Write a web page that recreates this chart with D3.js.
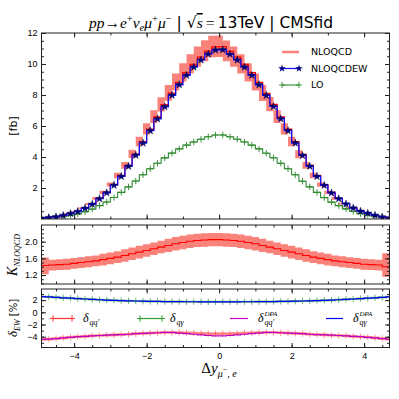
<!DOCTYPE html>
<head>
    <meta charset="utf-8">
    <script src="https://cdn.jsdelivr.net/npm/d3@7"></script>
    <style>
        body { margin: 0; background: #fff; }
        svg { font-family: 'DejaVu Sans', sans-serif; }
        .tick text { font-size: 9px; fill: #000; }
        .tick line { stroke: #222; }
        .math { font-family: 'Liberation Serif', serif; font-style: italic; }
    </style>
</head>

<body>
    <svg id="chart" width="399" height="399"></svg>

    <script>
        // bin centres of the Delta y histogram
        var binCenters = [-4.9, -4.7, -4.5, -4.3, -4.1, -3.9, -3.7, -3.5, -3.3, -3.1, -2.9, -2.7, -2.5, -2.3, -2.1, -1.9, -1.7, -1.5, -1.3, -1.1, -0.9, -0.7, -0.5, -0.3, -0.1,
            0.1, 0.3, 0.5, 0.7, 0.9, 1.1, 1.3, 1.5, 1.7, 1.9, 2.1, 2.3, 2.5, 2.7, 2.9, 3.1, 3.3, 3.5, 3.7, 3.9, 4.1, 4.3, 4.5, 4.7];

        // [fb] per bin
        var nloqcd = [0.05, 0.09, 0.14, 0.23, 0.36, 0.49, 0.70, 0.97, 1.33, 1.72, 2.22, 2.80, 3.46, 4.19, 4.99, 5.80, 6.58, 7.37, 8.12, 8.82, 9.44, 9.98, 10.45, 10.83, 11.10,
            11.12, 10.82, 10.45, 9.98, 9.44, 8.82, 8.11, 7.39, 6.59, 5.80, 4.99, 4.17, 3.46, 2.80, 2.21, 1.71, 1.33, 0.99, 0.72, 0.51, 0.38, 0.24, 0.13, 0.07];
        var nloqcdHi = [0.05, 0.10, 0.15, 0.24, 0.38, 0.52, 0.75, 1.03, 1.42, 1.83, 2.36, 2.98, 3.68, 4.46, 5.31, 6.18, 7.01, 7.85, 8.65, 9.39, 10.05, 10.63, 11.13, 11.53, 11.82,
            11.84, 11.52, 11.13, 10.63, 10.05, 9.39, 8.64, 7.87, 7.02, 6.18, 5.31, 4.44, 3.68, 2.98, 2.35, 1.82, 1.42, 1.05, 0.77, 0.54, 0.40, 0.26, 0.14, 0.07];
        var nloqcdLo = [0.05, 0.08, 0.13, 0.22, 0.34, 0.46, 0.66, 0.91, 1.25, 1.62, 2.09, 2.63, 3.25, 3.94, 4.69, 5.45, 6.19, 6.93, 7.63, 8.29, 8.87, 9.38, 9.82, 10.18, 10.43,
            10.45, 10.17, 9.82, 9.38, 8.87, 8.29, 7.62, 6.95, 6.19, 5.45, 4.69, 3.92, 3.25, 2.63, 2.08, 1.61, 1.25, 0.93, 0.68, 0.48, 0.36, 0.23, 0.12, 0.07];
        var nloqcdew = [0.05, 0.09, 0.14, 0.23, 0.35, 0.48, 0.69, 0.95, 1.31, 1.69, 2.18, 2.75, 3.40, 4.12, 4.90, 5.70, 6.46, 7.24, 7.98, 8.66, 9.27, 9.80, 10.26, 10.64, 10.90,
            10.92, 10.63, 10.26, 9.80, 9.27, 8.66, 7.97, 7.26, 6.47, 5.70, 4.90, 4.10, 3.40, 2.75, 2.17, 1.68, 1.31, 0.97, 0.71, 0.50, 0.37, 0.24, 0.13, 0.07];
        var lo = [0.035, 0.063, 0.097, 0.159, 0.247, 0.331, 0.467, 0.638, 0.864, 1.096, 1.388, 1.718, 2.072, 2.450, 2.851, 3.240, 3.596, 3.941, 4.251, 4.523, 4.768, 4.965, 5.148, 5.309, 5.415,
            5.424, 5.304, 5.148, 4.965, 4.768, 4.523, 4.246, 3.952, 3.601, 3.240, 2.851, 2.439, 2.072, 1.718, 1.381, 1.089, 0.864, 0.651, 0.480, 0.345, 0.260, 0.166, 0.090, 0.050];

        // K factor NLOQCD / LO
        var kFactor = [1.42, 1.43, 1.44, 1.45, 1.46, 1.48, 1.50, 1.52, 1.54, 1.57, 1.60, 1.63, 1.67, 1.71, 1.75, 1.79, 1.83, 1.87, 1.91, 1.95, 1.98, 2.01, 2.03, 2.04, 2.05,
            2.05, 2.04, 2.03, 2.01, 1.98, 1.95, 1.91, 1.87, 1.83, 1.79, 1.75, 1.71, 1.67, 1.63, 1.60, 1.57, 1.54, 1.52, 1.50, 1.48, 1.46, 1.45, 1.44, 1.40];
        var kLo = [1.22, 1.22, 1.31, 1.32, 1.33, 1.35, 1.37, 1.39, 1.41, 1.43, 1.46, 1.49, 1.52, 1.56, 1.60, 1.64, 1.68, 1.72, 1.75, 1.79, 1.82, 1.85, 1.87, 1.88, 1.89,
            1.89, 1.88, 1.87, 1.85, 1.82, 1.79, 1.75, 1.72, 1.68, 1.64, 1.60, 1.56, 1.52, 1.49, 1.46, 1.43, 1.41, 1.39, 1.37, 1.35, 1.33, 1.32, 1.31, 1.16];
        var kHi = [1.62, 1.62, 1.57, 1.58, 1.59, 1.61, 1.63, 1.65, 1.67, 1.71, 1.74, 1.77, 1.82, 1.86, 1.90, 1.94, 1.98, 2.02, 2.07, 2.11, 2.14, 2.17, 2.19, 2.20, 2.21,
            2.21, 2.20, 2.19, 2.17, 2.14, 2.11, 2.07, 2.02, 1.98, 1.94, 1.90, 1.86, 1.82, 1.77, 1.74, 1.71, 1.67, 1.65, 1.63, 1.61, 1.59, 1.58, 1.57, 1.72];

        // EW corrections [%]
        var dQQ = [-4.45, -4.4, -4.3, -4.2, -4.1, -4.0, -3.95, -3.85, -3.8, -3.75, -3.7, -3.65, -3.6, -3.5, -3.45, -3.4, -3.35, -3.3, -3.3, -3.3, -3.35, -3.4, -3.45, -3.5, -3.5,
            -3.5, -3.5, -3.45, -3.4, -3.35, -3.3, -3.3, -3.3, -3.35, -3.4, -3.45, -3.5, -3.6, -3.65, -3.7, -3.75, -3.8, -3.85, -3.95, -4.0, -4.1, -4.2, -4.3, -4.4];
        var dQG = [2.58, 2.52, 2.45, 2.38, 2.31, 2.25, 2.18, 2.12, 2.06, 2.01, 1.96, 1.92, 1.88, 1.85, 1.82, 1.80, 1.78, 1.76, 1.75, 1.74, 1.73, 1.73, 1.72, 1.72, 1.72,
            1.72, 1.72, 1.72, 1.73, 1.73, 1.74, 1.75, 1.76, 1.78, 1.80, 1.82, 1.85, 1.88, 1.92, 1.96, 2.01, 2.06, 2.12, 2.18, 2.25, 2.31, 2.38, 2.45, 2.52];
        var dQQdpa = [-4.45, -4.4, -4.3, -4.2, -4.1, -4.0, -3.95, -3.85, -3.8, -3.75, -3.7, -3.65, -3.6, -3.5, -3.45, -3.4, -3.35, -3.3, -3.3, -3.4, -3.5, -3.6, -3.7, -3.8, -3.85,
            -3.85, -3.8, -3.7, -3.6, -3.5, -3.4, -3.3, -3.3, -3.35, -3.4, -3.45, -3.5, -3.6, -3.65, -3.7, -3.75, -3.8, -3.85, -3.95, -4.0, -4.1, -4.2, -4.3, -4.4];
        var dQGdpa = [2.58, 2.52, 2.45, 2.38, 2.31, 2.25, 2.18, 2.12, 2.06, 2.01, 1.96, 1.92, 1.88, 1.85, 1.82, 1.80, 1.78, 1.76, 1.75, 1.74, 1.73, 1.73, 1.72, 1.72, 1.72,
            1.72, 1.72, 1.72, 1.73, 1.73, 1.74, 1.75, 1.76, 1.78, 1.80, 1.82, 1.85, 1.88, 1.92, 1.96, 2.01, 2.06, 2.12, 2.18, 2.25, 2.31, 2.38, 2.45, 2.52];

        // tick labels
        var xTickLabels = [-4, -2, 0, 2, 4];
        var mainYTicks = [2, 4, 6, 8, 10, 12];
        var kYTicks = [1.2, 1.6, 2.0];
        var ewYTicks = [-4, -2, 0, 2];

        var svg = d3.select("#chart");
        var left = 41.5, right = 389.5;

        var x = d3.scaleLinear().domain([-4.9, 4.7]).range([left, right]);
        var yMain = d3.scaleLinear().domain([0, 12]).range([219, 33]);
        var yK = d3.scaleLinear().domain([0.986, 2.4]).range([284, 225]);
        var yEW = d3.scaleLinear().domain([-5.77, 3.82]).range([347.5, 289]);

        function range(a, b, s) {
            var out = [];
            for (var v = a; v <= b + 1e-9; v += s) out.push(Math.round(v * 100) / 100);
            return out;
        }

        // frame with inward ticks on all four sides
        function frame(y, xMinor, yMajor, yMinor, showX, yFmt) {
            var top = y.range()[1], bottom = y.range()[0];
            var g = svg.append("g");
            var ax = [
                [d3.axisBottom(x).tickValues(xMinor).tickSize(-2.5), "translate(0," + bottom + ")"],
                [d3.axisTop(x).tickValues(xMinor).tickSize(-2.5), "translate(0," + top + ")"],
                [d3.axisLeft(y).tickValues(yMinor).tickSize(-2.5), "translate(" + left + ",0)"],
                [d3.axisRight(y).tickValues(yMinor).tickSize(-2.5), "translate(" + right + ",0)"],
                [d3.axisTop(x).tickValues(xTickLabels).tickSize(-4.5), "translate(0," + top + ")"],
                [d3.axisRight(y).tickValues(yMajor).tickSize(-4.5), "translate(" + right + ",0)"]
            ];
            ax.forEach(function (a) {
                g.append("g").attr("transform", a[1]).call(a[0].tickFormat("")).select(".domain").remove();
            });
            var bx = g.append("g").attr("transform", "translate(0," + bottom + ")")
                .call(d3.axisBottom(x).tickValues(xTickLabels).tickSize(-4.5).tickPadding(5)
                    .tickFormat(showX ? d3.format("") : ""));
            bx.select(".domain").remove();
            var ly = g.append("g").attr("transform", "translate(" + left + ",0)")
                .call(d3.axisLeft(y).tickValues(yMajor).tickSize(-4.5).tickPadding(4).tickFormat(yFmt));
            ly.select(".domain").remove();
            g.append("rect").attr("x", left).attr("y", top)
                .attr("width", right - left).attr("height", bottom - top)
                .attr("fill", "none").attr("stroke", "#222").attr("stroke-width", 1);
            return g;
        }

        function clip(id, y) {
            svg.append("clipPath").attr("id", id).append("rect")
                .attr("x", left).attr("y", y.range()[1])
                .attr("width", right - left).attr("height", y.range()[0] - y.range()[1]);
        }
        clip("cMain", yMain); clip("cK", yK); clip("cEW", yEW);

        var plus = "M-3,0H3M0,-3.2V3.2";
        var bandColor = "#f9837a";

        // ---- main panel ----
        var gm = svg.append("g").attr("clip-path", "url(#cMain)");
        gm.append("path")
            .datum(binCenters)
            .attr("fill", bandColor)
            .attr("d", d3.area().curve(d3.curveStepBefore)
                .x(d => x(d)).y0((d, i) => yMain(nloqcdLo[i])).y1((d, i) => yMain(nloqcdHi[i])));

        var stepMain = function (arr) {
            return d3.line().curve(d3.curveStep).x(d => x(d)).y((d, i) => yMain(arr[i]));
        };
        gm.append("path").datum(binCenters).attr("fill", "none").attr("stroke", "#2e8b2e")
            .attr("stroke-width", 1.1).attr("d", stepMain(lo));
        gm.selectAll(".loMark").data(binCenters).enter().append("path")
            .attr("d", plus).attr("stroke", "#2e8b2e").attr("stroke-width", 0.9)
            .attr("transform", (d, i) => "translate(" + x(d) + "," + yMain(lo[i]) + ")");
        gm.append("path").datum(binCenters).attr("fill", "none").attr("stroke", "#ff0000")
            .attr("stroke-width", 1.3).attr("d", stepMain(nloqcd));
        gm.append("path").datum(binCenters).attr("fill", "none").attr("stroke", "#1010ff")
            .attr("stroke-width", 1.3).attr("d", stepMain(nloqcdew));
        var star = d3.symbol(d3.symbolStar).size(18)();
        gm.selectAll(".star").data(binCenters).enter().append("path")
            .attr("d", star).attr("fill", "#000080").attr("stroke", "#000040").attr("stroke-width", 0.4)
            .attr("transform", (d, i) => "translate(" + x(d) + "," + yMain(nloqcdew[i]) + ")");

        frame(yMain, range(-4, 4, 1), mainYTicks, range(0.5, 11.5, 0.5), false, d3.format(""));

        // main legend
        var legMain = [
            { name: "NLOQCD", color: bandColor, w: 2.5, mark: null },
            { name: "NLOQCDEW", color: "#1010ff", w: 1.2, mark: "star" },
            { name: "LO", color: "#2e8b2e", w: 1.1, mark: "plus" }
        ];
        legMain.forEach(function (l, i) {
            var yy = 52 + i * 16.5;
            svg.append("line").attr("x1", 282).attr("x2", 299).attr("y1", yy).attr("y2", yy)
                .attr("stroke", l.color).attr("stroke-width", l.w);
            [282, 299].forEach(function (xx) {
                if (l.mark === "star")
                    svg.append("path").attr("d", star).attr("fill", "#000080")
                        .attr("transform", "translate(" + xx + "," + yy + ")");
                if (l.mark === "plus")
                    svg.append("path").attr("d", plus).attr("stroke", l.color).attr("stroke-width", 0.9)
                        .attr("transform", "translate(" + xx + "," + yy + ")");
            });
            svg.append("text").attr("x", 311).attr("y", yy).attr("dy", "0.35em")
                .style("font-size", "9.5px").text(l.name);
        });

        // ---- K factor panel ----
        var gk = svg.append("g").attr("clip-path", "url(#cK)");
        gk.append("path").datum(binCenters)
            .attr("fill", bandColor)
            .attr("d", d3.area().curve(d3.curveStepBefore)
                .x(d => x(d)).y0((d, i) => yK(kLo[i])).y1((d, i) => yK(kHi[i])));
        gk.append("path").datum(binCenters).attr("fill", "none").attr("stroke", "#ff0000")
            .attr("stroke-width", 1.1)
            .attr("d", d3.line().curve(d3.curveStepBefore).x(d => x(d)).y((d, i) => yK(kFactor[i])));
        frame(yK, range(-4.5, 4.5, 0.5), kYTicks, range(1.0, 2.3, 0.1), false, d3.format(".1f"));

        // ---- EW panel ----
        var ge = svg.append("g").attr("clip-path", "url(#cEW)");
        var stepEW = function (arr) {
            return d3.line().curve(d3.curveStep).x(d => x(d)).y((d, i) => yEW(arr[i]));
        };
        ge.append("path").datum(binCenters).attr("fill", "none").attr("stroke", "#ff4040")
            .attr("stroke-opacity", 0.55).attr("stroke-width", 2.6).attr("d", stepEW(dQQ));
        ge.selectAll(".qqMark").data(binCenters).enter().append("path")
            .attr("d", plus).attr("stroke", "#ff5050").attr("stroke-opacity", 0.6).attr("stroke-width", 1)
            .attr("transform", (d, i) => "translate(" + x(d) + "," + yEW(dQQ[i]) + ")");
        ge.append("path").datum(binCenters).attr("fill", "none").attr("stroke", "#30a030")
            .attr("stroke-opacity", 0.55).attr("stroke-width", 2.2).attr("d", stepEW(dQG));
        ge.selectAll(".qgMark").data(binCenters).enter().append("path")
            .attr("d", plus).attr("stroke", "#30a030").attr("stroke-opacity", 0.7).attr("stroke-width", 1)
            .attr("transform", (d, i) => "translate(" + x(d) + "," + yEW(dQG[i]) + ")");
        ge.append("path").datum(binCenters).attr("fill", "none").attr("stroke", "#c000c0")
            .attr("stroke-width", 1.2).attr("d", stepEW(dQQdpa));
        ge.append("path").datum(binCenters).attr("fill", "none").attr("stroke", "#0000ff")
            .attr("stroke-width", 1.2).attr("d", stepEW(dQGdpa));
        frame(yEW, range(-4.5, 4.5, 0.5), ewYTicks, range(-5, 3, 1), true, d3.format(""));

        // EW legend
        var legEW = [
            { x1: 53, x2: 72, tx: 83, color: "#ff3030", mark: true, sub: "qq\u2032", sup: null },
            { x1: 140, x2: 162, tx: 170, color: "#30a030", mark: true, sub: "q\u03b3", sup: null },
            { x1: 230, x2: 248, tx: 258, color: "#c000c0", mark: false, sub: "qq\u2032", sup: "DPA" },
            { x1: 326, x2: 343, tx: 353, color: "#0000ff", mark: false, sub: "q\u03b3", sup: "DPA" }
        ];
        var legY = 318.5;
        legEW.forEach(function (l) {
            svg.append("line").attr("x1", l.x1).attr("x2", l.x2).attr("y1", legY).attr("y2", legY)
                .attr("stroke", l.color).attr("stroke-width", 1.2);
            if (l.mark) [l.x1, l.x2].forEach(function (xx) {
                svg.append("path").attr("d", plus).attr("stroke", l.color).attr("stroke-width", 1)
                    .attr("transform", "translate(" + xx + "," + legY + ")");
            });
            svg.append("text").attr("class", "math").attr("x", l.tx).attr("y", legY + 3)
                .style("font-size", "12px").text("\u03b4");
            svg.append("text").attr("class", "math").attr("x", l.tx + 6.5).attr("y", legY + 6)
                .style("font-size", "8px").text(l.sub);
            if (l.sup) svg.append("text").attr("class", "math").attr("x", l.tx + 6.5).attr("y", legY - 3)
                .style("font-size", "7px").text(l.sup);
        });

        // ---- texts ----
        var title = svg.append("text").attr("x", 211).attr("y", 28).attr("text-anchor", "middle")
            .style("font-size", "15.5px");
        function ts(t, cls, dy, size) {
            var s = title.append("tspan").text(t);
            if (cls) s.attr("class", cls);
            if (dy) s.attr("dy", dy);
            if (size) s.style("font-size", size);
            return s;
        }
        ts("pp", "math");
        ts("\u2192", null).style("font-family", "'Liberation Serif', serif");
        ts("e", "math"); ts("+", null, -6, "10.5px").style("font-family", "'Liberation Serif', serif");
        ts("\u03bd", "math", 6); ts("e", "math", 3, "10.5px");
        ts("\u03bc", "math", -3); ts("+", null, -6, "10.5px").style("font-family", "'Liberation Serif', serif");
        ts("\u03bc", "math", 6); ts("\u2212", null, -6, "10.5px").style("font-family", "'Liberation Serif', serif");
        ts(" | ", null, 6);
        ts("\u221a", null).style("font-family", "'DejaVu Serif', serif");
        ts("s", "math").style("text-decoration", "overline");
        ts("\u2009=\u2009", null).style("font-family", "'Liberation Serif', serif");
        ts("13TeV | CMSfid", null);

        svg.append("text").attr("transform", "translate(17,126) rotate(-90)")
            .attr("text-anchor", "middle").style("font-size", "11px").text("[fb]");

        var kl = svg.append("text").attr("transform", "translate(17,255) rotate(-90)")
            .attr("text-anchor", "middle");
        kl.append("tspan").attr("class", "math").style("font-size", "14px").text("K");
        kl.append("tspan").attr("class", "math").attr("dy", 3).style("font-size", "8px").text("NLOQCD");

        var el = svg.append("text").attr("transform", "translate(17,318) rotate(-90)")
            .attr("text-anchor", "middle");
        el.append("tspan").attr("class", "math").style("font-size", "13px").text("\u03b4");
        el.append("tspan").attr("class", "math").attr("dy", 3).style("font-size", "8px").text("EW");
        el.append("tspan").attr("dy", -3).style("font-size", "10px").text(" [%]");

        var xl = svg.append("text").attr("x", 219).attr("y", 373).attr("text-anchor", "middle")
            .style("font-family", "'Liberation Serif', serif").style("font-size", "15px");
        xl.append("tspan").text("\u0394");
        xl.append("tspan").attr("class", "math").text("y");
        xl.append("tspan").attr("class", "math").attr("dy", 4).style("font-size", "10px").text("\u03bc");
        xl.append("tspan").attr("dy", -5).style("font-size", "8px").text("\u2212");
        xl.append("tspan").attr("class", "math").attr("dy", 5).style("font-size", "10px").text(", e");
    </script>
</body>

</html>
